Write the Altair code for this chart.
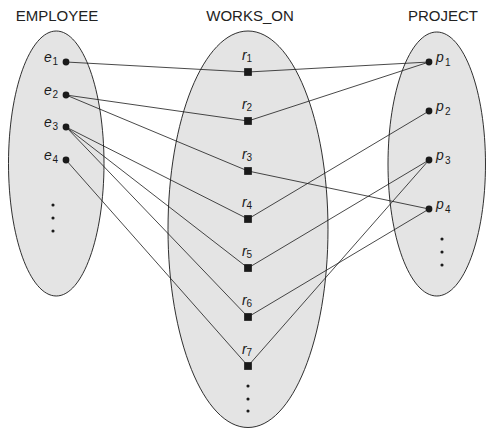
import altair as alt
import pandas as pd

# node names and where they sit in the picture (pixels)
employees = ["e1", "e2", "e3", "e4"]
employee_y = [62, 95, 127, 160]
relations = ["r1", "r2", "r3", "r4", "r5", "r6", "r7"]
relation_y = [72, 121, 171, 219, 268, 317, 366]
projects = ["p1", "p2", "p3", "p4"]
project_y = [62, 111, 160, 209]
column_x = {"e": 66, "r": 248, "p": 429}

# each WORKS_ON instance links one employee to one project
works_on = [
    ("e1", "r1", "p1"),
    ("e2", "r2", "p1"),
    ("e2", "r3", "p4"),
    ("e3", "r4", "p2"),
    ("e3", "r5", "p3"),
    ("e3", "r6", "p4"),
    ("e4", "r7", "p3"),
]

# the "..." dots under each set
more_y = {"e": [205, 218, 231], "r": [386, 399, 411], "p": [239, 252, 265]}
more_x = {"e": 53, "r": 248, "p": 442}

# the three sets (ellipses), trimmed a little to stay inside the page margin
set_names = ["EMPLOYEE", "WORKS_ON", "PROJECT"]
set_left = [8.5, 168, 388]
set_right = [104, 328, 485.5]
set_top = [31, 31, 32]
set_bottom = [296, 427.5, 296]
title_x = [57, 250, 443]
title_y = [20.5, 20.5, 20.5]

# plot area covers the page from its 8px margin on
W, H = 478, 420
xs = alt.Scale(domain=[8, 8 + W], range=[0, W], nice=False, zero=False)
ys = alt.Scale(domain=[8, 8 + H], range=[0, H], nice=False, zero=False)


def xy(xf="x", yf="y"):
    return dict(x=alt.X(f"{xf}:Q", scale=xs, axis=None),
                y=alt.Y(f"{yf}:Q", scale=ys, axis=None))


# lookup of node positions
pos = {}
for n, y in zip(employees, employee_y):
    pos[n] = (column_x["e"], y)
for n, y in zip(relations, relation_y):
    pos[n] = (column_x["r"], y)
for n, y in zip(projects, project_y):
    pos[n] = (column_x["p"], y)

layers = []

# ellipses
for i, name in enumerate(set_names):
    rx = (set_right[i] - set_left[i]) / 2
    ry = (set_bottom[i] - set_top[i]) / 2
    a = rx / ry
    path = f"M 0 -1 A {a:.4f} 1 0 1 1 0 1 A {a:.4f} 1 0 1 1 0 -1 Z"
    df = pd.DataFrame({"name": [name],
                       "x": [(set_left[i] + set_right[i]) / 2],
                       "y": [(set_top[i] + set_bottom[i]) / 2]})
    layers.append(
        alt.Chart(df).mark_point(shape=path, size=(2 * ry) ** 2, filled=True,
                                 fill="#e4e4e4", stroke="#1a1a1a", strokeWidth=0.9,
                                 opacity=1)
        .encode(**xy())
    )

# connecting lines
edges = []
for e, r, p in works_on:
    edges.append({"x": pos[e][0], "y": pos[e][1], "x2": pos[r][0], "y2": pos[r][1]})
    edges.append({"x": pos[r][0], "y": pos[r][1], "x2": pos[p][0], "y2": pos[p][1]})
edges_df = pd.DataFrame(edges)
layers.append(
    alt.Chart(edges_df).mark_rule(color="#1a1a1a", strokeWidth=0.8).encode(
        **xy(), x2="x2:Q", y2="y2:Q"
    )
)

# nodes
ent_df = pd.DataFrame(
    [{"name": n, "x": pos[n][0], "y": pos[n][1]} for n in employees + projects]
)
rel_df = pd.DataFrame(
    [{"name": n, "x": pos[n][0], "y": pos[n][1]} for n in relations]
)
layers.append(
    alt.Chart(ent_df).mark_point(shape="circle", size=46, filled=True,
                                 color="#1a1a1a", opacity=1).encode(**xy())
)
layers.append(
    alt.Chart(rel_df).mark_point(shape="square", size=60, filled=True,
                                 color="#1a1a1a", opacity=1).encode(**xy())
)

# ellipsis dots
more_df = pd.DataFrame(
    [{"x": more_x[k], "y": y} for k in more_y for y in more_y[k]]
)
layers.append(
    alt.Chart(more_df).mark_point(shape="circle", size=10, filled=True,
                                  color="#1a1a1a", opacity=1).encode(**xy())
)

# labels: italic letter + subscript number
offsets = {"e": (-22, 0, -13.5, 2.5), "r": (-6, -12, -1.5, -10), "p": (7, 0, 16, 4)}
for k in ["e", "r", "p"]:
    names = [n for n in pos if n.startswith(k)]
    df = pd.DataFrame({
        "x": [pos[n][0] for n in names],
        "y": [pos[n][1] for n in names],
        "letter": [n[0] for n in names],
        "num": [n[1:] for n in names],
    })
    ldx, ldy, sdx, sdy = offsets[k]
    layers.append(
        alt.Chart(df).mark_text(font="Liberation Sans", fontStyle="italic", fontSize=14,
                                align="left", baseline="alphabetic", dx=ldx, dy=ldy,
                                color="#1a1a1a").encode(**xy(), text="letter:N")
    )
    layers.append(
        alt.Chart(df).mark_text(font="Liberation Sans", fontSize=10,
                                align="left", baseline="alphabetic", dx=sdx, dy=sdy,
                                color="#1a1a1a").encode(**xy(), text="num:N")
    )

# set titles
titles_df = pd.DataFrame({"name": set_names, "x": title_x, "y": title_y})
layers.append(
    alt.Chart(titles_df).mark_text(font="Liberation Sans", fontSize=15, align="center",
                                   baseline="alphabetic", color="#222222")
    .encode(**xy(), text="name:N")
)

chart = alt.layer(*layers).properties(
    width=W, height=H, padding=0, autosize="none"
).configure_view(strokeWidth=0)

chart.save("out.html", embed_options={"renderer": "svg", "actions": False})
